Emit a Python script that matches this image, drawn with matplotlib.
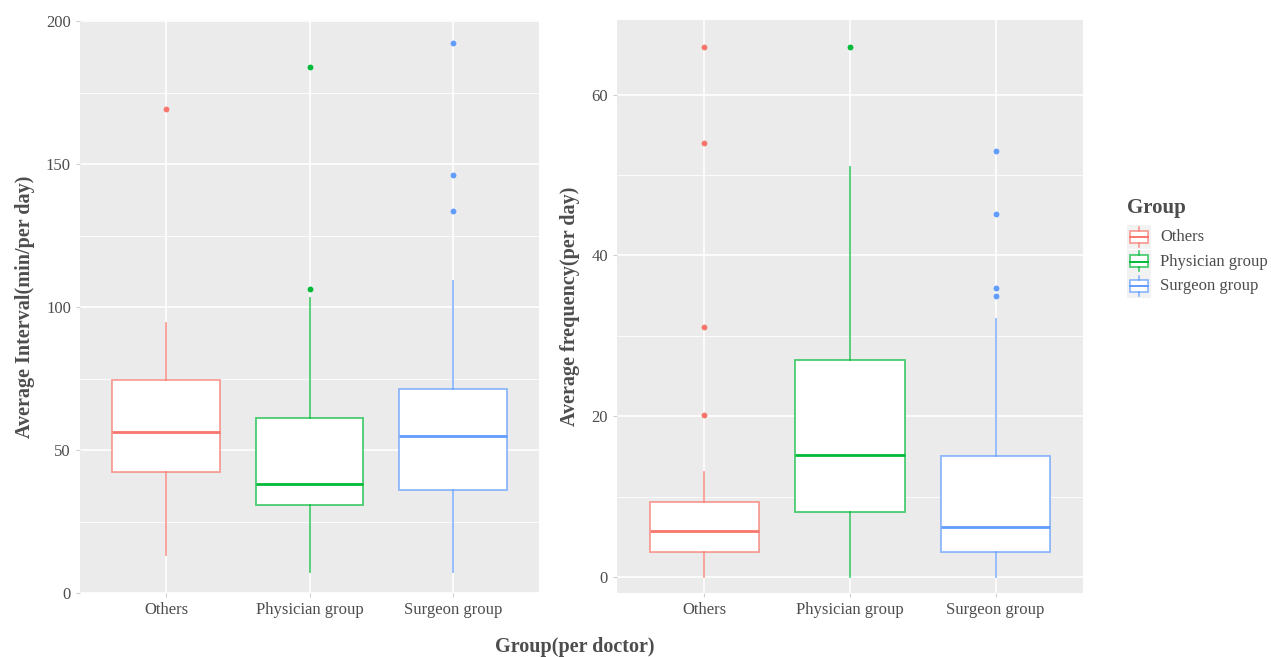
import matplotlib
matplotlib.use("Agg")
import matplotlib.pyplot as plt
from matplotlib.colors import to_rgba
from matplotlib.patches import Rectangle

plt.rcParams['font.family'] = ['Liberation Serif', 'DejaVu Serif']

groups = ['Others', 'Physician group', 'Surgeon group']
colors = ['#F8766D', '#00BA38', '#619CFF']

# Average interval (min/per day)
int_q1 = [42.4, 30.8, 36.1]
int_med = [56.4, 38.2, 55.0]
int_q3 = [74.6, 61.3, 71.5]
int_lo = [13.3, 7.4, 7.4]
int_hi = [94.6, 103.3, 109.3]
int_out = [[169.5], [106.5, 183.9], [133.5, 146.4, 192.3]]

# Average frequency (per day)
frq_q1 = [3.1, 8.1, 3.1]
frq_med = [5.7, 15.2, 6.2]
frq_q3 = [9.3, 27.0, 15.1]
frq_lo = [0, 0, 0]
frq_hi = [13.1, 51.0, 32.1]
frq_out = [[20.2, 31.1, 54.0, 66.0], [66.0], [35.0, 36.0, 45.1, 53.0]]

W, H = 1271, 657
fig = plt.figure(figsize=(W / 100, H / 100), dpi=100)

def box_panel(rect, q1, med, q3, lo, hi, out, ylim, major, minor, ylabel):
    ax = fig.add_axes(rect)
    ax.set_facecolor('#EBEBEB')
    for s in ax.spines.values():
        s.set_visible(False)
    ax.set_axisbelow(True)
    for i in range(3):
        st = dict(med=med[i], q1=q1[i], q3=q3[i], whislo=lo[i], whishi=hi[i], fliers=[])
        c = colors[i]
        soft = to_rgba(c, 0.7)
        ax.bxp([st], positions=[i + 1], widths=0.75, showcaps=False, patch_artist=True,
               boxprops=dict(facecolor='white', edgecolor=soft, linewidth=1.3),
               whiskerprops=dict(color=soft, linewidth=1.3),
               medianprops=dict(color=c, linewidth=2.0),
               manage_ticks=False)
        ax.plot([i + 1] * len(out[i]), out[i], 'o', color=c, markersize=4.2, markeredgewidth=0)
    ax.set_xlim(0.4, 3.6)
    ax.set_ylim(*ylim)
    ax.set_yticks(major)
    ax.set_yticks(minor, minor=True)
    ax.set_xticks([1, 2, 3])
    ax.set_xticklabels(groups)
    ax.grid(which='major', color='white', linewidth=1.2)
    ax.grid(which='minor', axis='y', color='white', linewidth=0.6)
    ax.tick_params(which='both', length=3, color='#D0D0D0', labelcolor='#4D4D4D', labelsize=12)
    ax.tick_params(which='minor', length=0)
    ax.set_ylabel(ylabel, fontsize=14.5, fontweight='bold', color='#4D4D4D', labelpad=8)
    return ax

box_panel([80 / W, 64 / H, 459 / W, 573 / H], int_q1, int_med, int_q3, int_lo, int_hi, int_out,
          (0, 200.5), [0, 50, 100, 150, 200], [25, 75, 125, 175], 'Average Interval(min/per day)')
box_panel([617 / W, 64 / H, 466 / W, 573 / H], frq_q1, frq_med, frq_q3, frq_lo, frq_hi, frq_out,
          (-2.0, 69.3), [0, 20, 40, 60], [10, 30, 50], 'Average frequency(per day)')

fig.text(575 / W, 1 - 647 / H, 'Group(per doctor)', fontsize=14.5, fontweight='bold',
         color='#4D4D4D', ha='center', va='center')

# legend
fig.text(1127 / W, 1 - 208 / H, 'Group', fontsize=15, fontweight='bold', color='#4D4D4D',
         ha='left', va='center')
for i, g in enumerate(groups):
    yc = 237 + i * 24.5
    kx = 1139
    c = colors[i]
    fig.patches.append(Rectangle(((kx - 12) / W, 1 - (yc + 12) / H), 24 / W, 24 / H,
                                 transform=fig.transFigure, facecolor='#F2F2F2', edgecolor='none'))
    fig.patches.append(Rectangle(((kx - 9) / W, 1 - (yc + 6) / H), 18 / W, 12 / H,
                                 transform=fig.transFigure, facecolor='white',
                                 edgecolor=to_rgba(c, 0.75), linewidth=1.2))
    fig.lines.append(plt.Line2D([(kx - 9) / W, (kx + 9) / W], [1 - yc / H, 1 - yc / H],
                                transform=fig.transFigure, color=c, linewidth=1.4))
    for y0, y1 in [(yc - 10, yc - 6), (yc + 6, yc + 10)]:
        fig.lines.append(plt.Line2D([kx / W, kx / W], [1 - y0 / H, 1 - y1 / H],
                                    transform=fig.transFigure, color=to_rgba(c, 0.75),
                                    linewidth=1.2))
    fig.text(1160 / W, 1 - yc / H, g, fontsize=12, color='#4D4D4D', ha='left', va='center')

fig.savefig('out.png', dpi=100)
